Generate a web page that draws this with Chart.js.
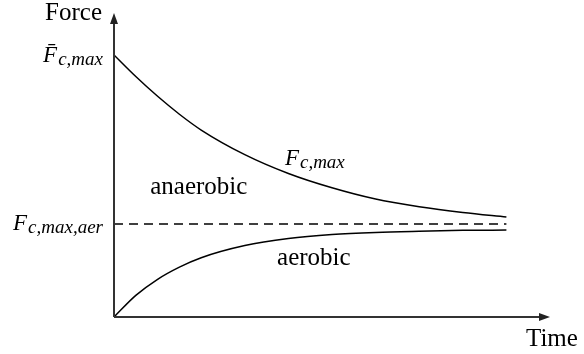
<!DOCTYPE html>
<html>
<head>
<meta charset="utf-8">
<script src="https://cdn.jsdelivr.net/npm/chart.js@4"></script>
<style>
  html, body { margin: 0; padding: 0; background: #fff; }
  canvas { display: block; }
</style>
</head>
<body>
<canvas id="chart" width="584" height="354"></canvas>
<script>
// time samples (arbitrary units) and force levels for the two curves
const times = [0, 5, 10, 15, 20, 30, 40, 50, 60, 70, 80, 90];
const maxForce = [86.2, 79.1, 72.6, 66.7, 61.5, 53.4, 47.2, 42.5, 38.8, 36.3, 34.4, 32.9];
const aerobicForce = [0, 7.1, 12.4, 16.4, 19.5, 23.5, 25.8, 27.1, 27.8, 28.2, 28.5, 28.6];
const aerLevel = 30.6;
const timeEnd = 90;

const serif = '"Liberation Serif", "Times New Roman", "DejaVu Serif"';

// italic symbol with italic subscript, drawn right-to-left when align is 'right'
function drawSymbol(ctx, main, sub, x, y, align) {
  ctx.font = 'italic 23px ' + serif;
  const wMain = ctx.measureText(main).width;
  ctx.font = 'italic 19px ' + serif;
  const wSub = ctx.measureText(sub).width;
  let x0 = align === 'right' ? x - wMain - wSub : x;
  ctx.textAlign = 'left';
  ctx.textBaseline = 'alphabetic';
  ctx.font = 'italic 23px ' + serif;
  ctx.fillText(main, x0, y);
  ctx.font = 'italic 19px ' + serif;
  ctx.fillText(sub, x0 + wMain + 1, y + 3);
}

const axesAndLabels = {
  id: 'axesAndLabels',
  afterDatasetsDraw(chart) {
    const ctx = chart.ctx;
    const xs = chart.scales.x, ys = chart.scales.y;
    const ox = xs.getPixelForValue(0), oy = ys.getPixelForValue(0);
    const right = xs.right, top = ys.top;
    ctx.save();

    // axes with arrowheads
    ctx.strokeStyle = '#333';
    ctx.fillStyle = '#222';
    ctx.lineWidth = 2;
    ctx.beginPath();
    ctx.moveTo(ox, oy);
    ctx.lineTo(ox, top + 8);
    ctx.moveTo(ox, oy);
    ctx.lineTo(right - 8, oy);
    ctx.stroke();
    ctx.beginPath();
    ctx.moveTo(ox, top);
    ctx.lineTo(ox - 4, top + 11);
    ctx.lineTo(ox + 4, top + 11);
    ctx.closePath();
    ctx.fill();
    ctx.beginPath();
    ctx.moveTo(right, oy);
    ctx.lineTo(right - 11, oy - 4);
    ctx.lineTo(right - 11, oy + 4);
    ctx.closePath();
    ctx.fill();

    // axis titles
    ctx.fillStyle = '#000';
    ctx.font = '25px ' + serif;
    ctx.textAlign = 'right';
    ctx.textBaseline = 'alphabetic';
    ctx.fillText('Force', ox - 12, top + 7);
    ctx.textAlign = 'left';
    ctx.fillText('Time', right - 24, oy + 29);

    // region names
    ctx.fillText('anaerobic', xs.getPixelForValue(8.3), ys.getPixelForValue(40.5));
    ctx.fillText('aerobic', xs.getPixelForValue(37.4), ys.getPixelForValue(17.1));

    // force level symbols
    drawSymbol(ctx, 'F\u0304', 'c,max', ox - 12, ys.getPixelForValue(maxForce[0]) + 7, 'right');
    drawSymbol(ctx, 'F', 'c,max,aer', ox - 12, ys.getPixelForValue(aerLevel) + 6, 'right');
    drawSymbol(ctx, 'F', 'c,max', xs.getPixelForValue(39.2), ys.getPixelForValue(50), 'left');

    ctx.restore();
  }
};

new Chart(document.getElementById('chart'), {
  type: 'line',
  data: {
    datasets: [
      {
        data: times.map((t, i) => ({ x: t, y: maxForce[i] })),
        borderColor: '#000',
        borderWidth: 1.5,
        pointRadius: 0,
        cubicInterpolationMode: 'monotone',
        fill: false
      },
      {
        data: times.map((t, i) => ({ x: t, y: aerobicForce[i] })),
        borderColor: '#000',
        borderWidth: 1.5,
        pointRadius: 0,
        cubicInterpolationMode: 'monotone',
        fill: false
      },
      {
        data: [{ x: 0, y: aerLevel }, { x: timeEnd, y: aerLevel }],
        borderColor: '#000',
        borderWidth: 1.3,
        borderDash: [9, 6],
        pointRadius: 0,
        fill: false
      }
    ]
  },
  options: {
    responsive: false,
    animation: false,
    devicePixelRatio: 1,
    layout: { padding: { left: 114, right: 34, top: 13, bottom: 37 } },
    plugins: { legend: { display: false }, tooltip: { enabled: false } },
    scales: {
      x: { type: 'linear', min: 0, max: 100, display: false },
      y: { type: 'linear', min: 0, max: 100, display: false }
    }
  },
  plugins: [axesAndLabels]
});
</script>
</body>
</html>
